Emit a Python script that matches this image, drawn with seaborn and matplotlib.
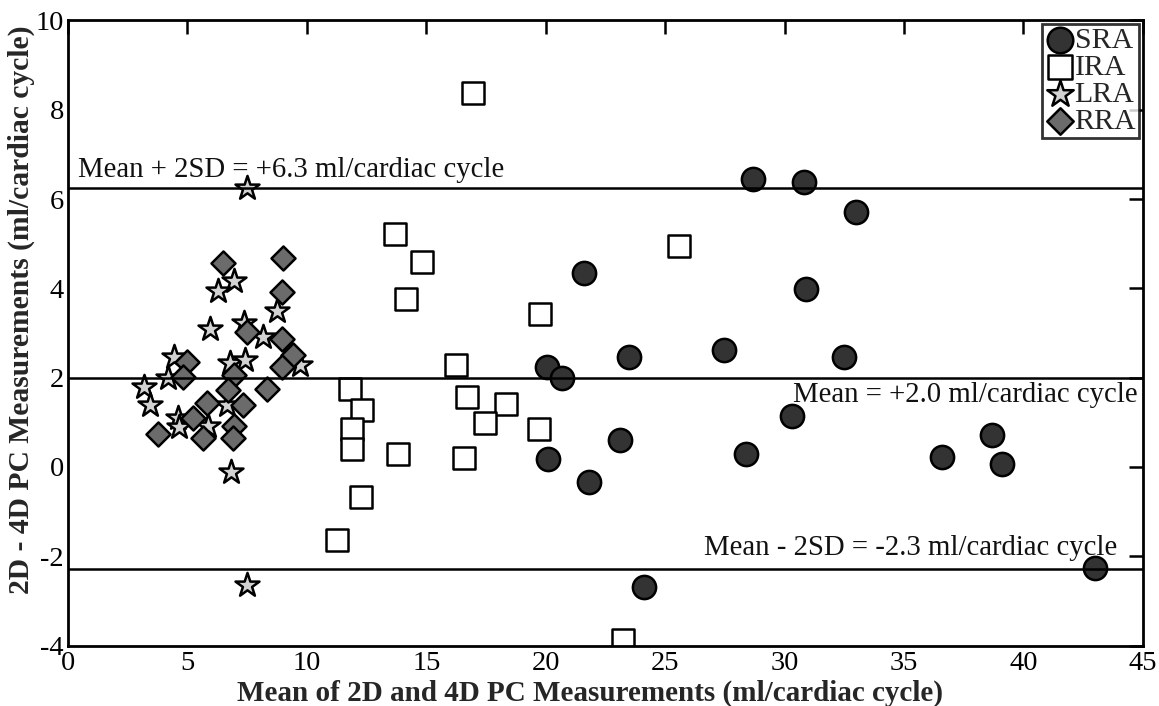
import numpy as np
import pandas as pd
import matplotlib
matplotlib.use("Agg")
import matplotlib.pyplot as plt
import seaborn as sns

# Bland-Altman data: mean of 2D and 4D PC flow vs. their difference (ml/cardiac cycle)
sra_mean = [28.7, 30.8, 33.0, 21.6, 30.9, 23.5, 27.45, 32.5, 20.05, 20.7, 30.3,
            28.4, 36.6, 38.7, 39.1, 43.0, 20.1, 23.1, 21.8, 24.1]
sra_diff = [6.45, 6.38, 5.71, 4.34, 3.99, 2.46, 2.62, 2.46, 2.24, 1.99, 1.14,
            0.29, 0.22, 0.72, 0.07, -2.26, 0.18, 0.60, -0.34, -2.69]

ira_mean = [13.7, 14.8, 14.15, 19.75, 16.25, 11.8, 12.3, 11.9, 11.9, 13.8,
            16.7, 18.35, 17.45, 19.7, 16.6, 12.25, 16.95, 25.6, 11.25, 23.25]
ira_diff = [5.22, 4.59, 3.76, 3.43, 2.28, 1.75, 1.28, 0.85, 0.40, 0.29,
            1.57, 1.41, 0.99, 0.85, 0.20, -0.68, 8.38, 4.95, -1.63, -3.87]

lra_mean = [6.95, 6.28, 8.75, 5.94, 7.35, 8.16, 4.42, 6.78, 7.41, 9.7,
            4.2, 3.18, 3.43, 6.65, 4.6, 4.64, 5.86, 6.82, 7.5, 7.5]
lra_diff = [4.17, 3.95, 3.49, 3.09, 3.22, 2.90, 2.47, 2.33, 2.40, 2.28,
            1.99, 1.79, 1.39, 1.39, 1.10, 0.90, 0.92, -0.11, 6.25, -2.64]

rra_mean = [6.49, 9.0, 8.95, 7.49, 8.95, 9.41, 8.95, 4.97, 4.82, 6.95,
            6.7, 8.33, 5.82, 7.33, 5.24, 6.95, 3.77, 5.65, 6.9]
rra_diff = [4.57, 4.68, 3.92, 3.03, 2.87, 2.51, 2.24, 2.36, 2.02, 2.06,
            1.72, 1.74, 1.43, 1.39, 1.10, 0.92, 0.74, 0.65, 0.65]

mean_diff = 2.0
upper_loa = 6.25
lower_loa = -2.28

x_ticks = list(range(0, 46, 5))
y_ticks = list(range(-4, 11, 2))

groups = {
    "SRA": (sra_mean, sra_diff),
    "IRA": (ira_mean, ira_diff),
    "LRA": (lra_mean, lra_diff),
    "RRA": (rra_mean, rra_diff),
}
df = pd.concat(
    [pd.DataFrame({"mean": m, "diff": d, "region": name}) for name, (m, d) in groups.items()],
    ignore_index=True,
)

style = {
    "SRA": dict(marker="o", color="#333333", s=280),
    "IRA": dict(marker="s", color="#ffffff", s=250),
    "LRA": dict(marker="*", color="#d2d2d2", s=330),
    "RRA": dict(marker="D", color="#6b6b6b", s=150),
}

sns.set_style("white")
plt.rcParams["font.family"] = ["Liberation Serif", "DejaVu Serif"]
plt.rcParams["axes.unicode_minus"] = False

fig = plt.figure(figsize=(11.59, 7.06), dpi=100)
ax = fig.add_axes([0.0587, 0.0856, 0.9273, 0.8854])

for name in groups:
    st = style[name]
    sns.scatterplot(
        data=df[df["region"] == name], x="mean", y="diff", ax=ax,
        marker=st["marker"], color=st["color"], s=st["s"],
        edgecolor="black", linewidth=1.8, label=name, zorder=2,
    )

for yv in (upper_loa, mean_diff, lower_loa):
    ax.axhline(yv, color="black", lw=1.8, zorder=3)

txt_kw = dict(fontsize=20.7, va="baseline", color="#111111")
ax.text(0.4, 6.5, "Mean + 2SD = +6.3 ml/cardiac cycle", ha="left", **txt_kw)
ax.text(44.8, 1.46, "Mean = +2.0 ml/cardiac cycle", ha="right", **txt_kw)
ax.text(43.95, -1.97, "Mean - 2SD = -2.3 ml/cardiac cycle", ha="right", **txt_kw)

ax.set_xlim(0, 45)
ax.set_ylim(-4, 10)
ax.set_xticks(x_ticks)
ax.set_yticks(y_ticks)
ax.tick_params(direction="in", length=10, width=1.8, labelsize=20.5,
               top=True, right=True, colors="black")
ax.tick_params(axis="x", pad=4)
ax.tick_params(axis="y", pad=3)
for sp in ax.spines.values():
    sp.set_visible(True)
    sp.set_linewidth(2)
    sp.set_color("black")

ax.set_xlabel("Mean of 2D and 4D PC Measurements (ml/cardiac cycle)",
              fontsize=21, fontweight="bold")
ax.set_ylabel("2D - 4D PC Measurements (ml/cardiac cycle)",
              fontsize=21.3, fontweight="bold")
ax.xaxis.set_label_coords(0.4856, -0.054)
ax.yaxis.set_label_coords(-0.031, 0.537)

leg = ax.legend(loc="upper right", frameon=True, fancybox=False, fontsize=21.5,
                handletextpad=0.0, borderpad=0.1, labelspacing=0.0,
                handlelength=1.0, borderaxespad=0.12, edgecolor="black",
                markerscale=1.1)
leg.get_frame().set_linewidth(2)

fig.savefig("out.png", dpi=100)
